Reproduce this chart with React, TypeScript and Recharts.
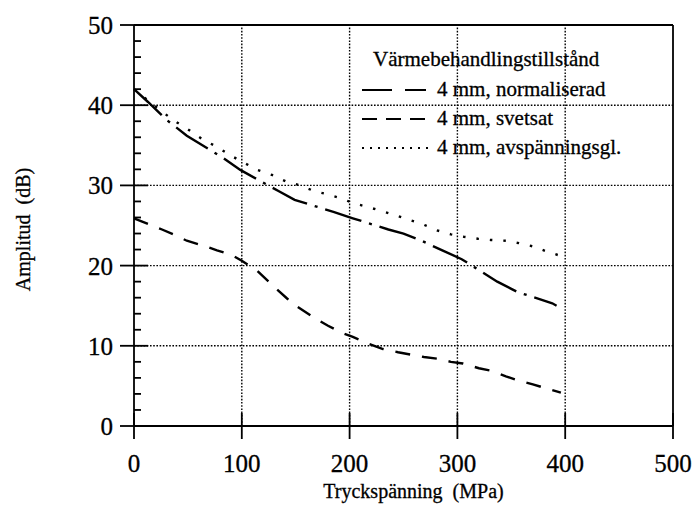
import React from 'react';
import { LineChart, Line, XAxis, YAxis, ReferenceLine, Legend } from 'recharts';

const FONT = '"Liberation Serif", "Times New Roman", Times, serif';

// Tick values
const xTicks = [0, 100, 200, 300, 400, 500];
const xGrid = [100, 200, 300, 400];
const yGrid = [10, 20, 30, 40];
const yTicks = [0, 2, 4, 6, 8, 10, 12, 14, 16, 18, 20, 22, 24, 26, 28, 30, 32, 34, 36, 38, 40, 42, 44, 46, 48, 50];

// Series: 4 mm, normaliserad
const normX = [0, 13, 30, 49, 83, 99, 134, 149, 185, 203, 236, 250, 265, 286, 304, 337, 350, 356, 388, 392];
const normY = [42, 40.4, 38.2, 36.2, 33.4, 31.9, 29.3, 28.2, 26.7, 25.9, 24.5, 24.0, 23.2, 21.9, 20.8, 18.0, 17.1, 16.7, 15.3, 15.0];

// Series: 4 mm, svetsat
const svetsX = [0, 13, 26, 38, 49, 64, 77, 91, 100, 114, 128, 142, 149, 166, 180, 193, 203, 217, 231, 245, 269, 281, 294, 305, 320, 331, 345, 356, 370, 382, 396];
const svetsY = [25.9, 25.2, 24.5, 23.8, 23.1, 22.5, 21.9, 21.3, 20.6, 19.4, 17.6, 15.9, 15.1, 13.6, 12.5, 11.6, 11.1, 10.3, 9.6, 9.2, 8.6, 8.4, 8.0, 7.8, 7.2, 6.9, 6.2, 5.7, 5.2, 4.7, 4.15];

// Series: 4 mm, avspänningsgl.
const avspX = [0, 13, 26, 38, 50, 64, 77, 90, 101, 115, 128, 141, 154, 167, 179, 192, 203, 217, 230, 242, 255, 267, 281, 294, 306, 319, 331, 345, 357, 370, 382, 396];
const avspY = [42, 40.6, 39.2, 38.0, 37.0, 35.7, 34.8, 33.7, 32.9, 31.9, 31.3, 30.5, 30.0, 29.3, 28.9, 28.4, 27.8, 27.3, 26.8, 26.3, 25.7, 25.2, 24.4, 23.9, 23.6, 23.35, 23.2, 23.1, 22.8, 22.4, 21.8, 21.2];

const seriesNames = ['4 mm, normaliserad', '4 mm, svetsat', '4 mm, avspänningsgl.'];
const legendTitle = 'Värmebehandlingstillstånd';
const xTitle = 'Tryckspänning  (MPa)';
const yTitle = 'Amplitud  (dB)';

const zip = (xs: number[], ys: number[]) => xs.map((x, i) => ({ x, y: ys[i] }));
const normData = zip(normX, normY);
const svetsData = zip(svetsX, svetsY);
const avspData = zip(avspX, avspY);

const TICK_W = 1.8;
const TEXT_STROKE = 0.3;

const BottomTick = (props: any) => {
  const x = Number(props.x);
  const y = Number(props.y);
  return (
    <g>
      <line x1={x} x2={x} y1={y - 13} y2={y + 13} stroke="#000" strokeWidth={TICK_W} />
      <text x={x} y={y + 46} textAnchor="middle" fontSize={25} fontFamily={FONT} fill="#000" stroke="#000" strokeWidth={TEXT_STROKE}>
        {props.payload.value}
      </text>
    </g>
  );
};

const TopTick = (props: any) => {
  const x = Number(props.x);
  const y = Number(props.y);
  return <line x1={x} x2={x} y1={y - 12} y2={y + 5} stroke="#000" strokeWidth={TICK_W} />;
};

const LeftTick = (props: any) => {
  const x = Number(props.x);
  const y = Number(props.y);
  const v = props.payload.value;
  if (v % 10 !== 0) return <line x1={x} x2={x + 7} y1={y} y2={y} stroke="#000" strokeWidth={TICK_W} />;
  return (
    <g>
      <line x1={x - 14} x2={x + 14} y1={y} y2={y} stroke="#000" strokeWidth={TICK_W} />
      <text x={x - 21} y={y + 9} textAnchor="end" fontSize={25} fontFamily={FONT} fill="#000" stroke="#000" strokeWidth={TEXT_STROKE}>
        {v}
      </text>
    </g>
  );
};

const RightTick = (props: any) => {
  const x = Number(props.x);
  const y = Number(props.y);
  const v = props.payload.value;
  if (v % 10 !== 0) return <line x1={x - 7} x2={x} y1={y} y2={y} stroke="#000" strokeWidth={TICK_W} />;
  return <line x1={x - 12} x2={x + 9} y1={y} y2={y} stroke="#000" strokeWidth={TICK_W} />;
};

const XTitle = (props: any) => {
  const vb = props.viewBox || { x: 126, y: 418, width: 539, height: 72 };
  return (
    <text
      x={vb.x + vb.width / 2 + 10}
      y={vb.y + vb.height}
      textAnchor="middle"
      fontSize={20}
      fontFamily={FONT}
      fill="#000"
      stroke="#000"
      strokeWidth={TEXT_STROKE}
      style={{ whiteSpace: 'pre' }}
    >
      {xTitle}
    </text>
  );
};

const YTitle = (props: any) => {
  const vb = props.viewBox || { x: 66, y: 17, width: 60, height: 401 };
  const tx = vb.x - 44;
  const ty = vb.y + vb.height / 2 + 4;
  return (
    <text
      x={tx}
      y={ty}
      transform={`rotate(-90, ${tx}, ${ty})`}
      textAnchor="middle"
      fontSize={20}
      fontFamily={FONT}
      fill="#000"
      stroke="#000"
      strokeWidth={TEXT_STROKE}
      style={{ whiteSpace: 'pre' }}
    >
      {yTitle}
    </text>
  );
};

const legendDashes = ['30 13 21 100', '15 9', '2 6'];
const seriesDashes = ['38 8 3 8', '15 12', '2.5 11'];

const LegendBox = () => (
  <svg width={330} height={125} style={{ display: 'block', overflow: 'visible' }}>
    <text x={15} y={24} fontSize={21} fontFamily={FONT} fill="#000" stroke="#000" strokeWidth={TEXT_STROKE}>
      {legendTitle}
    </text>
    {seriesNames.map((name, i) => (
      <g key={name}>
        <line
          x1={4}
          x2={70}
          y1={48 + i * 29}
          y2={48 + i * 29}
          stroke="#000"
          strokeWidth={2.2}
          strokeDasharray={legendDashes[i]}
        />
        <text x={79} y={54 + i * 29} fontSize={21} fontFamily={FONT} fill="#000" stroke="#000" strokeWidth={TEXT_STROKE}>
          {name}
        </text>
      </g>
    ))}
  </svg>
);

const axisStyle = { stroke: '#000', strokeWidth: 1.8 };

export default function App() {
  return (
    <div style={{ width: 695, height: 506, boxSizing: 'border-box', padding: '8px 0 0 8px', overflow: 'hidden', fontFamily: FONT }}>
      <style>{'html,body{margin:0;padding:0;overflow:hidden;} .recharts-wrapper svg{overflow:visible;}'}</style>
      <LineChart width={687} height={498} margin={{ top: 7, right: 2, bottom: 8, left: 66 }}>
        <XAxis
          dataKey="x"
          type="number"
          domain={[0, 500]}
          ticks={xTicks}
          interval={0}
          tickSize={0}
          tickMargin={0}
          tickLine={false}
          axisLine={axisStyle}
          tick={<BottomTick />}
          height={72}
          label={<XTitle />}
        />
        <XAxis
          xAxisId="top"
          orientation="top"
          type="number"
          domain={[0, 500]}
          ticks={xTicks}
          interval={0}
          tickSize={0}
          tickMargin={0}
          tickLine={false}
          axisLine={axisStyle}
          tick={<TopTick />}
          height={10}
        />
        <YAxis
          type="number"
          domain={[0, 50]}
          ticks={yTicks}
          interval={0}
          tickSize={0}
          tickMargin={0}
          tickLine={false}
          axisLine={axisStyle}
          tick={<LeftTick />}
          width={60}
          label={<YTitle />}
        />
        <YAxis
          yAxisId="right"
          orientation="right"
          type="number"
          domain={[0, 50]}
          ticks={yTicks}
          interval={0}
          tickSize={0}
          tickMargin={0}
          tickLine={false}
          axisLine={axisStyle}
          tick={<RightTick />}
          width={20}
        />
        {xGrid.map((v) => (
          <ReferenceLine key={'gx' + v} x={v} stroke="#000" strokeWidth={1.4} strokeDasharray="1.6 1.6" />
        ))}
        {yGrid.map((v) => (
          <ReferenceLine key={'gy' + v} y={v} stroke="#000" strokeWidth={1.4} strokeDasharray="1.6 1.6" />
        ))}
        <Legend
          layout="vertical"
          align="center"
          verticalAlign="middle"
          wrapperStyle={{ position: 'absolute', left: 350, top: 34, width: 330, height: 125 }}
          content={() => <LegendBox />}
        />
        <Line
          data={normData}
          dataKey="y"
          name={seriesNames[0]}
          type="linear"
          stroke="#000"
          strokeWidth={2.4}
          strokeDasharray={seriesDashes[0]}
          dot={false}
          activeDot={false}
          isAnimationActive={false}
        />
        <Line
          data={svetsData}
          dataKey="y"
          name={seriesNames[1]}
          type="linear"
          stroke="#000"
          strokeWidth={2.4}
          strokeDasharray={seriesDashes[1]}
          dot={false}
          activeDot={false}
          isAnimationActive={false}
        />
        <Line
          data={avspData}
          dataKey="y"
          name={seriesNames[2]}
          type="linear"
          stroke="#000"
          strokeWidth={2.4}
          strokeDasharray={seriesDashes[2]}
          dot={false}
          activeDot={false}
          isAnimationActive={false}
        />
      </LineChart>
    </div>
  );
}
